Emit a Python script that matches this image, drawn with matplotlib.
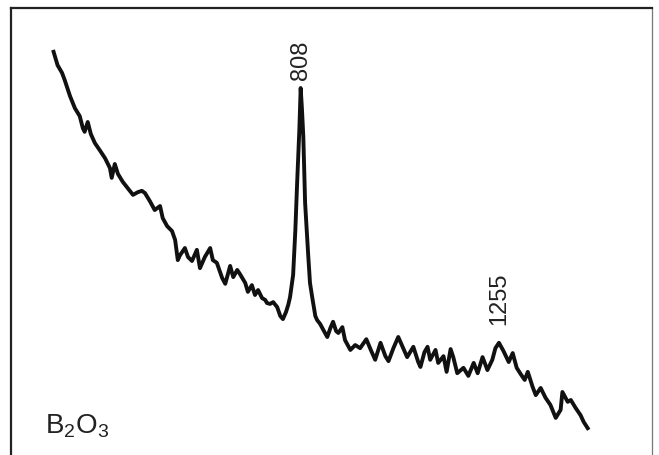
import matplotlib.pyplot as plt

plt.rcParams["font.family"] = ["Liberation Sans", "DejaVu Sans"]
plt.rcParams["mathtext.fontset"] = "custom"
plt.rcParams["mathtext.rm"] = "Liberation Sans"

# Raman shift (cm-1) and intensity (a.u.) of the B2O3 spectrum
shift = [251, 260, 270, 276, 288, 299, 310, 317, 321, 328, 335, 344, 355, 367,
         378, 382, 389, 396, 407, 418, 430, 441, 450, 457, 468, 479, 491, 497,
         507, 518, 525, 531, 536, 547, 554, 563, 574, 581, 592, 604, 610, 619,
         631, 638, 649, 656, 665, 671, 683, 689, 698, 705, 712, 721, 728, 732,
         739, 746, 755, 762, 768, 775, 780, 784, 791, 796, 800, 805, 808, 811,
         814, 818, 825, 829, 834, 841, 845, 852, 859, 868, 875, 881, 888, 893,
         902, 908, 920, 931, 942, 956, 967, 976, 988, 999, 1006, 1017, 1028,
         1039, 1048, 1062, 1073, 1078, 1087, 1094, 1100, 1112, 1118, 1130, 1137,
         1146, 1152, 1161, 1175, 1186, 1198, 1207, 1218, 1229, 1240, 1247, 1255,
         1265, 1277, 1286, 1295, 1304, 1313, 1320, 1331, 1338, 1349, 1360, 1371,
         1383, 1394, 1398, 1410, 1417, 1428, 1439, 1446, 1455]
intensity = [90.2, 87.2, 85.5, 83.9, 80.3, 77.6, 75.8, 73.1, 72.3, 74.5, 71.8,
             69.8, 68.2, 66.4, 64.2, 62.0, 65.1, 62.9, 61.1, 59.7, 58.2, 58.8,
             59.1, 58.6, 56.8, 54.8, 55.7, 53.0, 51.2, 50.1, 48.1, 43.6, 44.7,
             46.3, 44.3, 43.4, 45.9, 41.8, 44.3, 46.3, 43.6, 43.0, 39.6, 38.3,
             42.3, 39.8, 41.4, 40.5, 38.5, 36.5, 38.0, 35.8, 36.9, 35.1, 34.7,
             34.0, 33.8, 34.2, 33.1, 31.1, 30.4, 32.0, 33.6, 35.3, 40.3, 50.3,
             60.8, 72.7, 82.1, 77.2, 71.1, 56.4, 44.7, 38.5, 35.3, 31.1, 30.2,
             29.3, 28.0, 26.4, 28.4, 29.8, 27.7, 27.3, 28.6, 25.7, 23.5, 24.6,
             23.9, 25.9, 23.3, 21.3, 25.1, 22.1, 21.0, 23.9, 26.4, 23.9, 21.9,
             24.2, 20.8, 19.7, 23.0, 24.2, 21.3, 23.5, 20.6, 22.1, 18.6, 23.7,
             21.9, 18.3, 19.5, 17.7, 20.6, 18.3, 21.9, 19.0, 21.3, 23.9, 25.1,
             23.3, 20.8, 22.8, 19.5, 18.1, 16.8, 18.6, 15.2, 13.4, 15.0, 12.8,
             11.2, 8.3, 10.1, 14.1, 11.9, 12.3, 10.5, 8.9, 7.4, 6.0]

peaks = [808, 1255]
peak_labels = ["808", "1255"]
label_y = [84.0, 29.0]

fig = plt.figure(figsize=(6.59, 4.55), dpi=100)
fig.patch.set_facecolor("white")
ax = fig.add_axes([11 / 659, 0, 641 / 659, 447 / 455])

ax.plot(shift, intensity, color="#111111", lw=2.8, solid_joinstyle="round")

for p, lab, y in zip(peaks, peak_labels, label_y):
    ax.text(p, y, lab, rotation=90, ha="center", va="bottom",
            fontsize=17, color="#222222")

ax.text(0.053, 0.049, r"B$_2$O$_3$", transform=ax.transAxes,
        fontsize=20, color="#222222", ha="left", va="baseline")

ax.set_xlim(155, 1600)
ax.set_ylim(0, 100)
ax.set_xticks([])
ax.set_yticks([])

ax.spines["bottom"].set_visible(False)
for side in ("top", "left"):
    ax.spines[side].set_color("#222222")
    ax.spines[side].set_linewidth(1.6)
ax.spines["right"].set_color("#777777")
ax.spines["right"].set_linewidth(0.9)

fig.savefig("out.png", dpi=100, facecolor="white")
plt.close(fig)
